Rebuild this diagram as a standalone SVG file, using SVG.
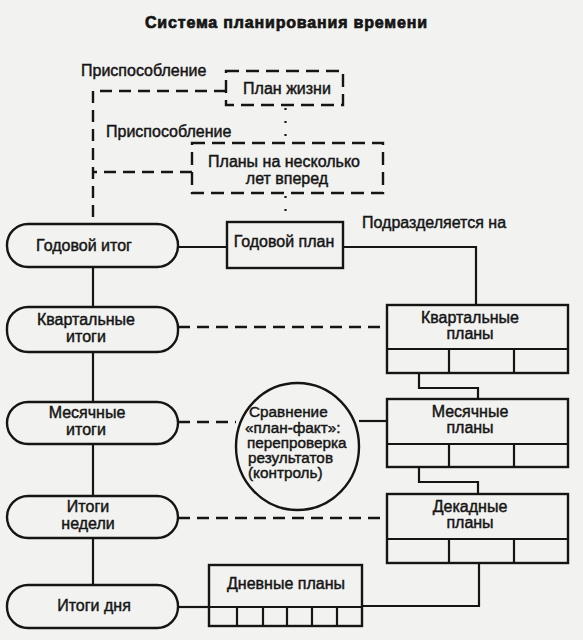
<svg xmlns="http://www.w3.org/2000/svg" width="583" height="640" viewBox="0 0 583 640">
<style>
  .bg{fill:#f2f2f0}
  .ln{stroke:#151515;stroke-width:2.2;fill:none}
  .dash{stroke:#151515;stroke-width:2.4;fill:none;stroke-dasharray:12 7}
  .dot{stroke:#151515;stroke-width:2.2;fill:none;stroke-dasharray:2 11}
  .shape{stroke:#151515;stroke-width:2.4;fill:#f2f2f0}
  .dshape{stroke:#151515;stroke-width:2.4;fill:#f2f2f0;stroke-dasharray:13 7}
  text{font-family:"Liberation Sans",Arial,sans-serif;font-size:16px;fill:#151515;stroke:#151515;stroke-width:0.45}
  .c{text-anchor:middle}
  .e{font-size:15.3px}
  .title{font-weight:bold;font-size:16px;stroke-width:0.7}
</style>
<rect class="bg" x="0" y="0" width="583" height="640"/>
<text class="title c" x="286" y="28" textLength="282" lengthAdjust="spacing">Система планирования времени</text>

<g id="connectors">
  <path class="dash" d="M226,91 H93 V224"/>
  <path class="dash" d="M192,172 H93"/>
  <path class="dot" d="M285.5,108 V143"/>
  <path class="dot" d="M285.5,196 V222"/>
  <path class="ln" d="M93,267 V307 M93,352 V402 M93,444 V496 M93,538 V585"/>
  <path class="ln" d="M178,247 H227"/>
  <path class="ln" d="M343,247 H476 V305"/>
  <path class="dash" d="M178,327 H387"/>
  <path class="dash" d="M178,422 H236"/>
  <path class="ln" d="M359,421 H387"/>
  <path class="dash" d="M178,518 H387"/>
  <path class="ln" d="M419,373 V388 H478 V399"/>
  <path class="ln" d="M419,467 V482 H478 V494"/>
  <path class="ln" d="M479,563 V606 H362"/>
  <path class="ln" d="M178,607 H209"/>
</g>

<g id="label-adapt1"><text x="81" y="76">Приспособление</text></g>
<g id="label-adapt2"><text x="106" y="137">Приспособление</text></g>
<g id="label-subdivide"><text x="362" y="228">Подразделяется на</text></g>

<g id="plan-life">
  <rect class="dshape" x="226" y="71" width="117" height="34"/>
  <text class="c" x="287" y="94">План жизни</text>
</g>
<g id="plan-years">
  <rect class="dshape" x="192" y="143" width="191" height="50"/>
  <text class="c" x="284" y="167">Планы на несколько</text>
  <text class="c" x="287" y="184">лет вперед</text>
</g>

<g id="result-year">
  <rect class="shape" x="7" y="224" width="171" height="43" rx="21"/>
  <text class="c" x="84" y="251">Годовой итог</text>
</g>
<g id="plan-year">
  <rect class="shape" x="227" y="222" width="116" height="46"/>
  <text class="c" x="284" y="247">Годовой план</text>
</g>

<g id="result-quarter">
  <rect class="shape" x="7" y="307" width="171" height="45" rx="21"/>
  <text class="c" x="86" y="325">Квартальные</text>
  <text class="c" x="86" y="342">итоги</text>
</g>
<g id="result-month">
  <rect class="shape" x="7" y="402" width="171" height="42" rx="21"/>
  <text class="c" x="87" y="418">Месячные</text>
  <text class="c" x="86" y="435">итоги</text>
</g>
<g id="result-week">
  <rect class="shape" x="7" y="496" width="171" height="42" rx="21"/>
  <text class="c" x="88" y="512">Итоги</text>
  <text class="c" x="88" y="529">недели</text>
</g>
<g id="result-day">
  <rect class="shape" x="7" y="585" width="171" height="43" rx="21"/>
  <text class="c" x="94" y="611">Итоги дня</text>
</g>

<g id="plan-quarter">
  <rect class="shape" x="387" y="305" width="181" height="68"/>
  <path class="ln" d="M387,349 H568 M449,349 V373 M514,349 V373"/>
  <text class="c" x="470" y="323">Квартальные</text>
  <text class="c" x="470" y="339">планы</text>
</g>
<g id="plan-month">
  <rect class="shape" x="387" y="399" width="181" height="68"/>
  <path class="ln" d="M387,444 H568 M449,444 V467 M514,444 V467"/>
  <text class="c" x="470" y="417">Месячные</text>
  <text class="c" x="470" y="433">планы</text>
</g>
<g id="plan-decade">
  <rect class="shape" x="387" y="494" width="181" height="69"/>
  <path class="ln" d="M387,539 H568 M449,539 V563 M514,539 V563"/>
  <text class="c" x="470" y="512">Декадные</text>
  <text class="c" x="470" y="528">планы</text>
</g>
<g id="plan-day">
  <rect class="shape" x="209" y="565" width="153" height="61"/>
  <path class="ln" d="M209,607 H362 M237,607 V626 M263,607 V626 M287,607 V626 M312,607 V626 M337,607 V626"/>
  <text class="c" x="286" y="589">Дневные планы</text>
</g>

<g id="control">
  <ellipse class="shape" cx="297.5" cy="446.5" rx="61.5" ry="63.5"/>
  <text class="e" x="249" y="417">Сравнение</text>
  <text class="e" x="245" y="433">«план-факт»:</text>
  <text class="e" x="247" y="448">перепроверка</text>
  <text class="e" x="248" y="463">результатов</text>
  <text class="e" x="248" y="478">(контроль)</text>
</g>
</svg>
